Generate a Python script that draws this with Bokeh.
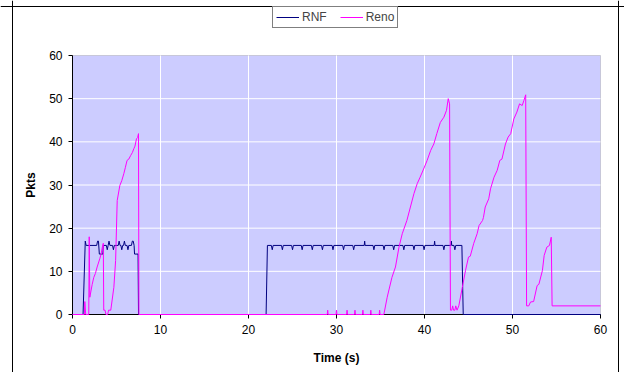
from bokeh.plotting import figure
from bokeh.models import Range1d, Legend, LegendItem, FixedTicker, BoxAnnotation, Span
from bokeh.embed import file_html
from bokeh.resources import INLINE

# ---- data ----
x_ticks = [0, 10, 20, 30, 40, 50, 60]
y_ticks = [0, 10, 20, 30, 40, 50, 60]

rnf_t = [0, 1.2, 1.45, 1.55, 2.75, 2.85, 2.95, 3.05, 3.45, 3.5, 3.85, 3.95, 4.05, 4.15, 4.25,
         4.55, 4.65, 4.75, 5.2, 5.3, 5.4, 5.5, 5.6, 5.7, 5.8, 5.9, 6.0, 6.2, 6.3, 6.4, 6.7,
         6.8, 6.9, 7.0, 7.05, 7.45, 7.5,
         22.0, 22.15,
         22.6, 22.7, 22.8, 23.75, 23.85, 23.95, 24.9, 25.0, 25.1, 26.0, 26.1, 26.2,
         27.15, 27.25, 27.35, 28.3, 28.4, 28.5, 29.5, 29.6, 29.7, 30.7, 30.8, 30.9,
         31.85, 31.95, 32.05, 33.15, 33.2, 33.25, 34.15, 34.25, 34.35, 35.3, 35.4, 35.5,
         36.4, 36.5, 36.6, 37.55, 37.65, 37.75, 38.7, 38.8, 38.9, 39.85, 39.95, 40.05,
         41.1, 41.15, 41.2, 42.1, 42.2, 42.3, 43.0, 43.05, 43.1, 43.35, 43.45, 43.55,
         44.25, 44.4, 60]
rnf_v = [0, 0, 17, 16, 16, 17, 17, 14, 14, 16, 16, 15, 16, 17, 16,
         16, 15, 16, 16, 17, 16, 16, 15, 16, 16, 17, 16, 16, 15, 16, 16,
         17, 17, 16, 14, 14, 0,
         0, 16,
         16, 15, 16, 16, 15, 16, 16, 15, 16, 16, 15, 16,
         16, 15, 16, 16, 15, 16, 16, 15, 16, 16, 15, 16,
         16, 15, 16, 16, 17, 16, 16, 15, 16, 16, 15, 16,
         16, 15, 16, 16, 15, 16, 16, 15, 16, 16, 15, 16,
         16, 17, 16, 16, 15, 16, 16, 17, 16, 16, 15, 16,
         16, 0, 0]

reno_t = [0, 1.35, 1.4, 1.5, 1.85, 1.9, 1.97, 2.24, 2.42, 2.6, 2.8, 3.1, 3.25, 3.4, 3.5,
          3.55, 3.7, 3.8, 4.0, 4.1, 4.35, 4.7, 4.9, 5.08, 5.38, 5.6, 5.83, 6.0, 6.2, 6.4,
          6.6, 6.8, 6.97, 7.1, 7.27, 7.4, 7.5, 7.55,
          28.95, 29.0, 29.05, 29.95, 30.0, 30.05, 31.15, 31.2, 31.25, 32.05, 32.1, 32.15,
          32.95, 33.0, 33.05, 33.85, 33.9, 33.95, 34.85, 34.9, 34.95,
          35.38, 35.76, 36.3, 36.7, 37.1, 37.47, 38.0, 38.4, 38.8, 39.17, 39.5, 39.9, 40.3,
          40.7, 41.06, 41.4, 41.8, 42.2, 42.5, 42.7, 42.85, 42.95, 43.1, 43.2, 43.3, 43.45,
          43.55, 43.7, 43.9, 44.3, 44.66, 45.0, 45.2, 45.6, 45.98, 46.2, 46.6, 46.7, 46.9,
          47.3, 47.5, 47.9, 48.26, 48.56, 48.8, 49.2, 49.5, 49.8, 50.15, 50.5, 50.8, 51.1,
          51.3, 51.5, 51.6, 51.85, 52.05, 52.4, 52.8, 53.0, 53.4, 53.6, 53.9, 54.2, 54.4,
          54.5, 60]
reno_v = [0, 0, 3, 0, 0, 18, 4, 7, 8.6, 9.5, 11, 12.9, 14, 15.7, 16.5,
          1, 1, 0, 0, 1, 1, 6.3, 12.5, 26.4, 29.9, 31, 32.6, 34, 35.7, 36,
          36.8, 37.5, 38.4, 39, 40.7, 41, 41.9, 0,
          0, 1, 0, 0, 1, 0, 0, 1, 0, 0, 1, 0,
          0, 1, 0, 0, 1, 0, 0, 1, 0,
          0, 4.0, 8.6, 11, 15.6, 18.7, 21.8, 24.9, 28, 30.3, 31.8, 33.7, 35.7,
          38, 39.5, 41.9, 44.5, 45.7, 47.3, 50, 48.8, 1, 1, 2, 1, 1,
          2, 1, 2, 6.3, 10.2, 13.3, 13.5, 16.5, 18.7, 20.6, 21.8, 22.5, 24.9,
          26.8, 29.1, 31.8, 33.4, 35.7, 36, 39.5, 41.1, 41.9, 45.3, 46.9, 48.8, 48.4,
          49.6, 50.9, 2, 2, 2.9, 3.0, 6.7, 7, 10.2, 13.7, 15.6, 16, 17.9,
          2, 2]

FONT = "Liberation Sans"

# ---- layout (pixels) ----
W, H = 624, 372
PX0, PX1 = 72, 600      # plot-area left/right
PY0, PY1 = 314, 55      # plot-area bottom/top
OUT_L, OUT_R, OUT_T = 12, 618, 6  # outer chart border

xs = (PX1 - PX0) / (x_ticks[-1] - x_ticks[0])
ys = (PY0 - PY1) / (y_ticks[-1] - y_ticks[0])
x_start = x_ticks[0] - PX0 / xs
x_end = x_ticks[-1] + (W - PX1) / xs
y_end = y_ticks[-1] + PY1 / ys
y_start = y_ticks[0] - (H - PY0) / ys

p = figure(width=W, height=H, output_backend="svg", toolbar_location=None,
           x_range=Range1d(x_start, x_end), y_range=Range1d(y_start, y_end),
           min_border=0, min_border_left=0, min_border_right=0,
           min_border_top=0, min_border_bottom=0)
p.background_fill_color = "white"
p.border_fill_color = "white"
p.outline_line_color = None
p.grid.visible = False

# plot-area background and border
bg = BoxAnnotation(left=x_ticks[0], right=x_ticks[-1], bottom=y_ticks[0], top=y_ticks[-1],
                   fill_color="#CCCCFF", fill_alpha=1, line_color="#808080", line_width=1,
                   level="image")
p.add_layout(bg)

# grid lines limited to the plot area
gx = [t for t in x_ticks[1:-1]]
gy = [t for t in y_ticks[1:-1]]
p.segment(x0=gx, x1=gx, y0=[y_ticks[0]] * len(gx), y1=[y_ticks[-1]] * len(gx),
          line_color="white", line_width=1, level="underlay")
p.segment(x0=[x_ticks[0]] * len(gy), x1=[x_ticks[-1]] * len(gy), y0=gy, y1=gy,
          line_color="white", line_width=1, level="underlay")

# axes fixed at the plot-area edges
for ax in (p.xaxis[0], p.yaxis[0]):
    ax.fixed_location = 0
    ax.bounds = (0, 60)
    ax.level = "underlay"
    ax.axis_line_color = "black"
    ax.major_tick_line_color = "black"
    ax.major_tick_out = 4
    ax.major_tick_in = 0
    ax.minor_tick_line_color = None
    ax.major_label_text_font = FONT
    ax.major_label_text_font_size = "12px"
    ax.major_label_text_color = "black"
    ax.axis_label_text_font = FONT
    ax.axis_label_text_font_size = "12px"
    ax.axis_label_text_font_style = "bold"
    ax.axis_label_text_color = "black"
p.xaxis.ticker = FixedTicker(ticks=x_ticks)
p.yaxis.ticker = FixedTicker(ticks=y_ticks)
p.xaxis.axis_label = "Time (s)"
p.yaxis.axis_label = "Pkts"
p.xaxis.major_label_standoff = 6
p.xaxis.axis_label_standoff = 14
p.yaxis.major_label_standoff = 6
p.yaxis.axis_label_standoff = 8

r1 = p.line(rnf_t, rnf_v, line_color="#000080", line_width=1)
r2 = p.line(reno_t, reno_v, line_color="#FF00FF", line_width=1)

# outer chart border (left, right, top)
for loc, dim in ((x_ticks[0] - (PX0 - OUT_L) / xs, "height"),
                 (x_ticks[-1] + (OUT_R - PX1) / xs, "height"),
                 (y_ticks[-1] + (PY1 - OUT_T) / ys, "width")):
    p.add_layout(Span(location=loc, dimension=dim, line_color="black", line_width=1))

legend = Legend(items=[LegendItem(label="RNF", renderers=[r1]),
                       LegendItem(label="Reno", renderers=[r2])],
                orientation="horizontal", location=(272, H - 28))
legend.border_line_color = "black"
legend.border_line_width = 1
legend.background_fill_color = "white"
legend.background_fill_alpha = 1
legend.label_text_font = FONT
legend.label_text_font_size = "12px"
legend.glyph_width = 23
legend.glyph_height = 14
legend.label_height = 14
legend.padding = 3
legend.spacing = 13
legend.label_standoff = 3
legend.margin = 0
p.add_layout(legend, "center")

open("out.html", "w").write(file_html(p, INLINE))
